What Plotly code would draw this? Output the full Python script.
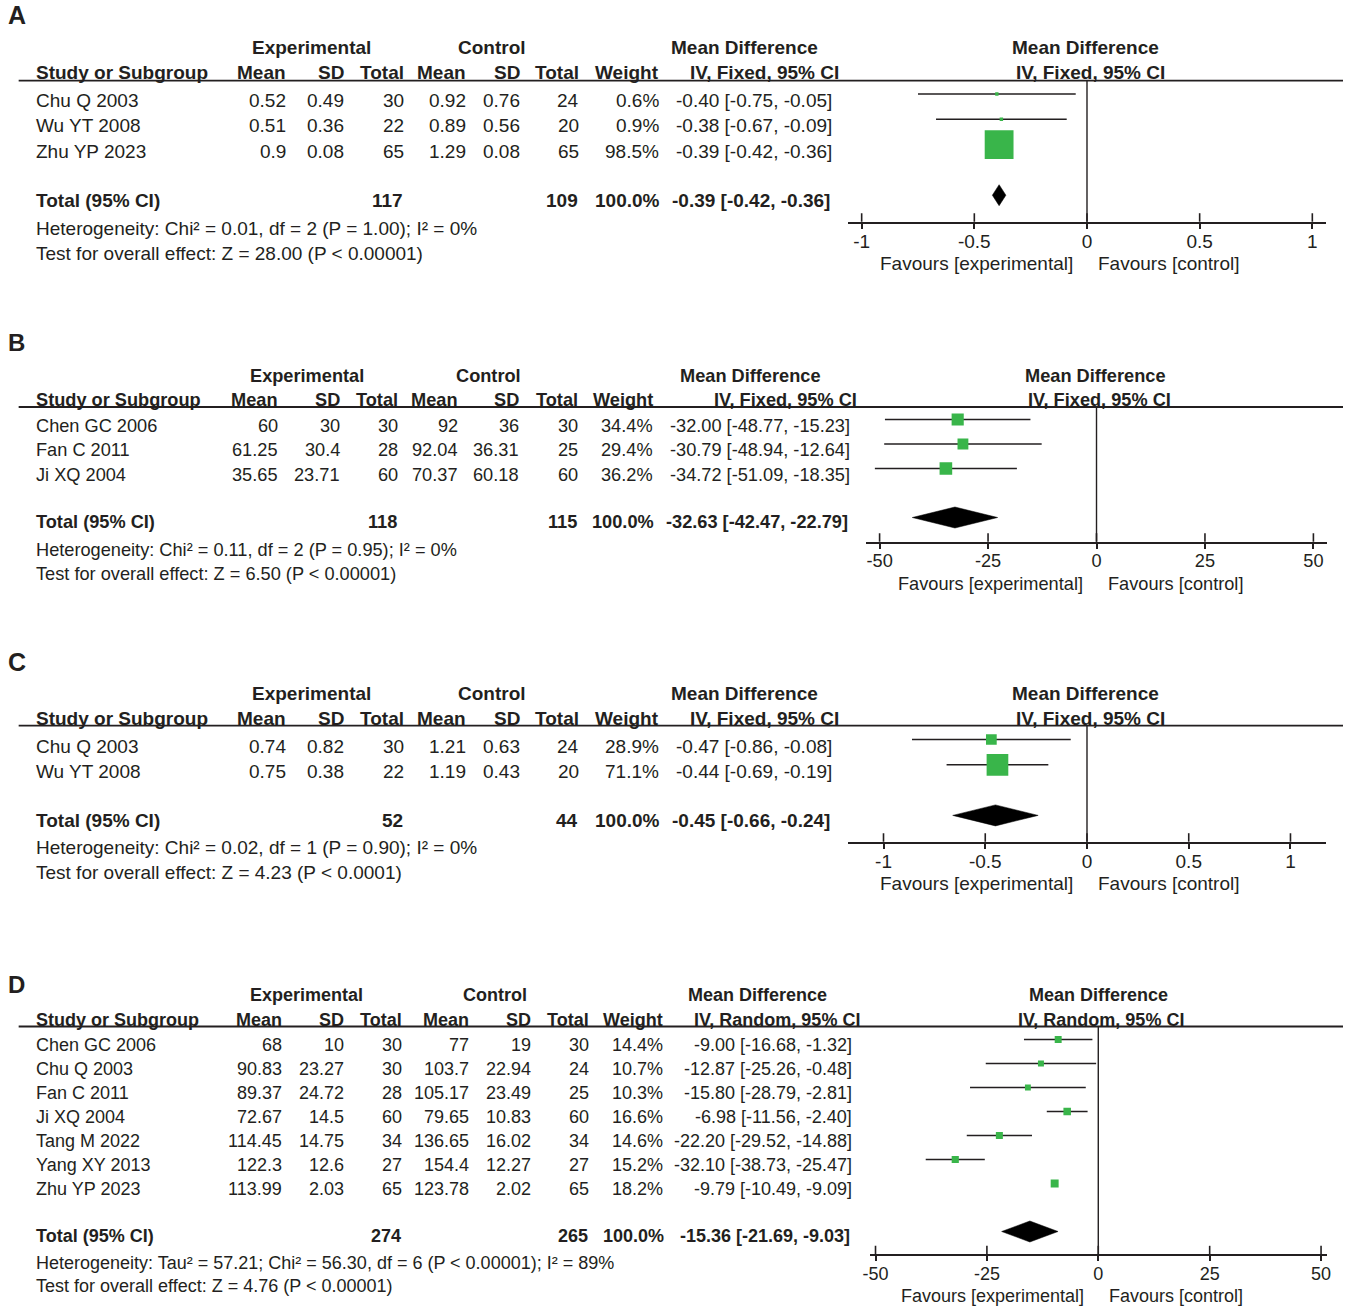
import plotly.graph_objects as go

W, H = 1347, 1309

# ---------------- Panel A data ----------------
A_study = ["Chu Q 2003", "Wu YT 2008", "Zhu YP 2023"]
A_exp_mean = [0.52, 0.51, 0.9]
A_exp_sd = [0.49, 0.36, 0.08]
A_exp_n = [30, 22, 65]
A_ctl_mean = [0.92, 0.89, 1.29]
A_ctl_sd = [0.76, 0.56, 0.08]
A_ctl_n = [24, 20, 65]
A_weight = [0.6, 0.9, 98.5]
A_md = [-0.40, -0.38, -0.39]
A_lo = [-0.75, -0.67, -0.42]
A_hi = [-0.05, -0.09, -0.36]
A_total = [117, 109, -0.39, -0.42, -0.36]
A_het = "Heterogeneity: Chi² = 0.01, df = 2 (P = 1.00); I² = 0%"
A_test = "Test for overall effect: Z = 28.00 (P < 0.00001)"
A_method = "IV, Fixed, 95% CI"
A_ticks = [-1, -0.5, 0, 0.5, 1]
A_ticklabels = ["-1", "-0.5", "0", "0.5", "1"]

# ---------------- Panel B data ----------------
B_study = ["Chen GC 2006", "Fan C 2011", "Ji XQ 2004"]
B_exp_mean = [60, 61.25, 35.65]
B_exp_sd = [30, 30.4, 23.71]
B_exp_n = [30, 28, 60]
B_ctl_mean = [92, 92.04, 70.37]
B_ctl_sd = [36, 36.31, 60.18]
B_ctl_n = [30, 25, 60]
B_weight = [34.4, 29.4, 36.2]
B_md = [-32.00, -30.79, -34.72]
B_lo = [-48.77, -48.94, -51.09]
B_hi = [-15.23, -12.64, -18.35]
B_total = [118, 115, -32.63, -42.47, -22.79]
B_het = "Heterogeneity: Chi² = 0.11, df = 2 (P = 0.95); I² = 0%"
B_test = "Test for overall effect: Z = 6.50 (P < 0.00001)"
B_method = "IV, Fixed, 95% CI"
B_ticks = [-50, -25, 0, 25, 50]
B_ticklabels = ["-50", "-25", "0", "25", "50"]

# ---------------- Panel C data ----------------
C_study = ["Chu Q 2003", "Wu YT 2008"]
C_exp_mean = [0.74, 0.75]
C_exp_sd = [0.82, 0.38]
C_exp_n = [30, 22]
C_ctl_mean = [1.21, 1.19]
C_ctl_sd = [0.63, 0.43]
C_ctl_n = [24, 20]
C_weight = [28.9, 71.1]
C_md = [-0.47, -0.44]
C_lo = [-0.86, -0.69]
C_hi = [-0.08, -0.19]
C_total = [52, 44, -0.45, -0.66, -0.24]
C_het = "Heterogeneity: Chi² = 0.02, df = 1 (P = 0.90); I² = 0%"
C_test = "Test for overall effect: Z = 4.23 (P < 0.0001)"
C_method = "IV, Fixed, 95% CI"
C_ticks = [-1, -0.5, 0, 0.5, 1]
C_ticklabels = ["-1", "-0.5", "0", "0.5", "1"]

# ---------------- Panel D data ----------------
D_study = ["Chen GC 2006", "Chu Q 2003", "Fan C 2011", "Ji XQ 2004",
           "Tang M 2022", "Yang XY 2013", "Zhu YP 2023"]
D_exp_mean = [68, 90.83, 89.37, 72.67, 114.45, 122.3, 113.99]
D_exp_sd = [10, 23.27, 24.72, 14.5, 14.75, 12.6, 2.03]
D_exp_n = [30, 30, 28, 60, 34, 27, 65]
D_ctl_mean = [77, 103.7, 105.17, 79.65, 136.65, 154.4, 123.78]
D_ctl_sd = [19, 22.94, 23.49, 10.83, 16.02, 12.27, 2.02]
D_ctl_n = [30, 24, 25, 60, 34, 27, 65]
D_weight = [14.4, 10.7, 10.3, 16.6, 14.6, 15.2, 18.2]
D_md = [-9.00, -12.87, -15.80, -6.98, -22.20, -32.10, -9.79]
D_lo = [-16.68, -25.26, -28.79, -11.56, -29.52, -38.73, -10.49]
D_hi = [-1.32, -0.48, -2.81, -2.40, -14.88, -25.47, -9.09]
D_total = [274, 265, -15.36, -21.69, -9.03]
D_het = "Heterogeneity: Tau² = 57.21; Chi² = 56.30, df = 6 (P < 0.00001); I² = 89%"
D_test = "Test for overall effect: Z = 4.76 (P < 0.00001)"
D_method = "IV, Random, 95% CI"
D_ticks = [-50, -25, 0, 25, 50]
D_ticklabels = ["-50", "-25", "0", "25", "50"]

# ---------------- styling ----------------
FONT = "Liberation Sans, Arial, Helvetica, sans-serif"
TXT = "#231f20"
GREEN = "#39b54a"

# horizontal placement correction (the page is shown slightly narrower/offset)
XOFF, XSCALE = 8.35, 0.9906

# layout positions (target pixels) for each panel
LAY = {
    "A": dict(fs=19, lfs=25, letter_y=15, grp_y=47.5, hdr_y=73, rule_y=80.7, y0=94, s=25.3, row_off=6.7, tot_off=4.8,
              axis_y=221.7, het_y=228.3, test_y=253.3, fav_y=263.5,
              cols=[288.5, 345.5, 405.5, 467.5, 521.5, 580.5, 660.5], ci_r=833.5,
              exp_c=312, ctl_c=492.5, md_c=745, iv_c=765, f_md_c=1086, f_iv_c=1091,
              xdom=(848, 1326), xr=(-1.062, 1.062)),
    "B": dict(fs=18.2, lfs=24, letter_y=342.5, grp_y=375.5, hdr_y=399.7, rule_y=407, y0=419.5, s=24.5, row_off=6.5,
              tot_off=4.3, axis_y=541.7, het_y=549.5, test_y=574, fav_y=583.5,
              cols=[280, 341.5, 399.5, 459.5, 520.5, 579.5, 654.5], ci_r=851.5,
              exp_c=307.5, ctl_c=489.5, md_c=751, iv_c=786, f_md_c=1095, f_iv_c=1099,
              xdom=(866, 1327), xr=(-53.2, 53.2)),
    "C": dict(fs=19, lfs=25, letter_y=662, grp_y=693, hdr_y=718, rule_y=725.7, y0=739.5, s=25.3, row_off=6.8, tot_off=5,
              axis_y=841.7, het_y=847, test_y=872, fav_y=883.5,
              cols=[288.5, 345.5, 405.5, 467.5, 521.5, 580.5, 660.5], ci_r=833.5,
              exp_c=312, ctl_c=492.5, md_c=745, iv_c=765, f_md_c=1086, f_iv_c=1091,
              xdom=(848, 1326), xr=(-1.176, 1.176)),
    "D": dict(fs=18, lfs=24, letter_y=984, grp_y=995, hdr_y=1019.5, rule_y=1026.5, y0=1039.5, s=24.0, row_off=5.8,
              tot_off=4.8, axis_y=1254.3, het_y=1263, test_y=1286, fav_y=1296,
              cols=[284.5, 345.5, 403.5, 470.5, 532.5, 590.5, 664.5], ci_r=853.5,
              exp_c=307.5, ctl_c=495.5, md_c=758, iv_c=777, f_md_c=1098, f_iv_c=1101,
              xdom=(870, 1327), xr=(-51.3, 51.4)),
}

panels = [
    ("A", A_study, A_exp_mean, A_exp_sd, A_exp_n, A_ctl_mean, A_ctl_sd, A_ctl_n, A_weight,
     A_md, A_lo, A_hi, A_total, A_het, A_test, A_method, A_ticks, A_ticklabels),
    ("B", B_study, B_exp_mean, B_exp_sd, B_exp_n, B_ctl_mean, B_ctl_sd, B_ctl_n, B_weight,
     B_md, B_lo, B_hi, B_total, B_het, B_test, B_method, B_ticks, B_ticklabels),
    ("C", C_study, C_exp_mean, C_exp_sd, C_exp_n, C_ctl_mean, C_ctl_sd, C_ctl_n, C_weight,
     C_md, C_lo, C_hi, C_total, C_het, C_test, C_method, C_ticks, C_ticklabels),
    ("D", D_study, D_exp_mean, D_exp_sd, D_exp_n, D_ctl_mean, D_ctl_sd, D_ctl_n, D_weight,
     D_md, D_lo, D_hi, D_total, D_het, D_test, D_method, D_ticks, D_ticklabels),
]


def px(x):
    return max(0.0, (x - XOFF) / XSCALE) / W


def py(y):
    return 1 - y / H


fig = go.Figure()
shapes = []
annotations = []


def text(x, y, s, size, anchor="left", bold=False, xref="paper", xshift=0):
    if bold:
        s = "<b>" + s + "</b>"
    annotations.append(dict(
        x=px(x) if xref == "paper" else x, y=py(y), xref=xref, yref="paper",
        text=s, showarrow=False, xanchor=anchor, yanchor="middle", xshift=xshift,
        borderpad=0, font=dict(family=FONT, size=size, color=TXT)))


def num(v):
    return f"{v:g}"


def ci_text(m, l, h):
    return f"{m:.2f} [{l:.2f}, {h:.2f}]"


layout_axes = {}
for k, p in enumerate(panels, start=1):
    (letter, study, em, esd, en, cm, csd, cn, wt, md, lo, hi, tot, het, test,
     method, ticks, ticklabels) = p
    L = LAY[letter]
    fs = L["fs"]
    xa = "x" if k == 1 else f"x{k}"
    ya = "y" if k == 1 else f"y{k}"
    n = len(study)
    cols = L["cols"]

    # panel letter
    text(0, L["letter_y"], letter, L["lfs"], bold=True)

    # group headers
    text(L["exp_c"], L["grp_y"], "Experimental", fs, anchor="center", bold=True)
    text(L["ctl_c"], L["grp_y"], "Control", fs, anchor="center", bold=True)
    text(L["md_c"], L["grp_y"], "Mean Difference", fs, anchor="center", bold=True)
    text(L["f_md_c"], L["grp_y"], "Mean Difference", fs, anchor="center", bold=True)

    # column headers
    text(36, L["hdr_y"], "Study or Subgroup", fs, bold=True)
    for cx, lab in zip(cols, ["Mean", "SD", "Total", "Mean", "SD", "Total", "Weight"]):
        text(cx, L["hdr_y"], lab, fs, anchor="right", bold=True)
    text(L["iv_c"], L["hdr_y"], method, fs, anchor="center", bold=True)
    text(L["f_iv_c"], L["hdr_y"], method, fs, anchor="center", bold=True)

    # horizontal rule under headers
    shapes.append(dict(type="line", xref="paper", yref="paper",
                       x0=px(20), x1=1, y0=py(L["rule_y"]), y1=py(L["rule_y"]),
                       line=dict(color=TXT, width=1.8)))

    # study rows
    for i in range(n):
        ty = L["y0"] + i * L["s"] + L["row_off"]
        text(36, ty, study[i], fs)
        vals = [num(em[i]), num(esd[i]), str(en[i]), num(cm[i]), num(csd[i]), str(cn[i]),
                f"{wt[i]:.1f}%"]
        for cx, v in zip(cols, vals):
            text(cx, ty, v, fs, anchor="right")
        text(L["ci_r"], ty, ci_text(md[i], lo[i], hi[i]), fs, anchor="right")

    # total row
    tt = L["y0"] + (n + 1) * L["s"] + L["tot_off"]
    text(36, tt, "Total (95% CI)", fs, bold=True)
    text(cols[2] - 1, tt, str(tot[0]), fs, anchor="right", bold=True)
    text(cols[5] - 1, tt, str(tot[1]), fs, anchor="right", bold=True)
    text(cols[6] + 1, tt, "100.0%", fs, anchor="right", bold=True)
    text(L["ci_r"] - 2, tt, ci_text(tot[2], tot[3], tot[4]), fs, anchor="right", bold=True)
    text(36, L["het_y"], het, fs)
    text(36, L["test_y"], test, fs)

    # ---- forest plot ----
    rows = list(range(n))
    fig.add_trace(go.Scatter(
        x=md, y=rows, mode="markers", xaxis=xa, yaxis=ya, hoverinfo="skip",
        error_x=dict(type="data", symmetric=False,
                     array=[h_ - m_ for h_, m_ in zip(hi, md)],
                     arrayminus=[m_ - l_ for m_, l_ in zip(md, lo)],
                     width=0, thickness=1.6, color=TXT),
        marker=dict(symbol="square", color=GREEN, opacity=1,
                    size=[3.2 + 0.26 * w for w in wt], line=dict(width=0))))
    ti = n + 1
    h = 10.5 / L["s"]
    fig.add_trace(go.Scatter(x=[tot[3], tot[2], tot[4], tot[2], tot[3]],
                             y=[ti, ti - h, ti, ti + h, ti],
                             mode="lines", fill="toself", fillcolor="#000000",
                             line=dict(color="#000000", width=0.5),
                             xaxis=xa, yaxis=ya, hoverinfo="skip"))

    dom_h = L["axis_y"] - L["rule_y"]
    layout_axes["xaxis" if k == 1 else f"xaxis{k}"] = dict(
        domain=[px(L["xdom"][0]), px(L["xdom"][1])], range=list(L["xr"]),
        anchor=ya, showline=True, linecolor=TXT, linewidth=1.6,
        ticks="outside", ticklen=5, tickwidth=1.6, tickcolor=TXT,
        tickmode="array", tickvals=ticks, ticktext=ticklabels,
        ticklabelstandoff=-3,
        tickfont=dict(family=FONT, size=fs, color=TXT),
        showgrid=False, zeroline=False, fixedrange=True)
    layout_axes["yaxis" if k == 1 else f"yaxis{k}"] = dict(
        domain=[py(L["axis_y"]), py(L["rule_y"])],
        range=[(L["axis_y"] - L["y0"]) / L["s"], (L["rule_y"] - L["y0"]) / L["s"]],
        anchor=xa, visible=False, fixedrange=True)

    # zero line
    shapes.append(dict(type="line", xref=xa, yref=f"{ya} domain", x0=0, x1=0, y0=0, y1=1,
                       line=dict(color=TXT, width=1.4)))
    # upper half of tick marks
    for t in ticks:
        shapes.append(dict(type="line", xref=xa, yref=f"{ya} domain", x0=t, x1=t,
                           y0=0, y1=8.5 / dom_h, line=dict(color=TXT, width=1.6)))

    # favours labels
    text(0, L["fav_y"], "Favours [experimental]", fs, anchor="right", xref=xa, xshift=-13)
    text(0, L["fav_y"], "Favours [control]", fs, anchor="left", xref=xa, xshift=10)

fig.update_layout(
    width=W, height=H, autosize=False, margin=dict(l=0, r=0, t=0, b=0, pad=0),
    paper_bgcolor="white", plot_bgcolor="white", showlegend=False,
    shapes=shapes, annotations=annotations, **layout_axes)

post = ("document.body.style.margin='0';document.body.style.padding='0';"
        "document.documentElement.style.overflow='hidden';")
fig.write_html("out.html", config={"responsive": False, "displayModeBar": False},
               post_script=post)
